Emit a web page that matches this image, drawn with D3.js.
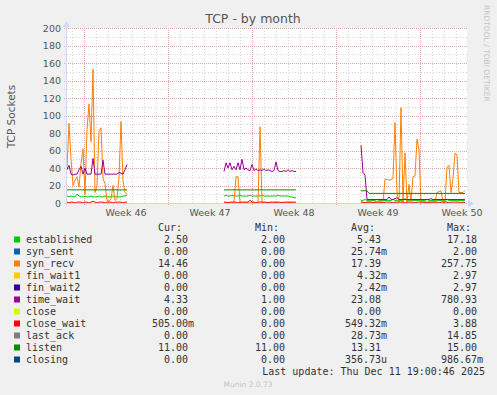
<!DOCTYPE html>
<html>
<head>
<meta charset="utf-8">
<script src="https://cdn.jsdelivr.net/npm/d3@7"></script>
<style>
  html, body { margin: 0; padding: 0; background: #f0f0f0; }
  svg { display: block; font-family: "DejaVu Sans", sans-serif; }
  .mono { font-family: "DejaVu Sans Mono", monospace; font-size: 10px; fill: #333; white-space: pre; }
</style>
</head>
<body>
<svg id="chart" width="497" height="395"></svg>
<script>
// Munin "TCP - by month" graph, redrawn in D3.

const SERIES = ["established", "syn_sent", "syn_recv", "fin_wait1", "fin_wait2", "time_wait",
  "close", "close_wait", "last_ack", "listen", "closing"];
const COLORS = ["#00cc00", "#0066b3", "#ff8000", "#ffcc00", "#330099", "#990099",
  "#ccff00", "#ff0000", "#808080", "#008f00", "#00487d"];

// legend statistics, as printed
const CUR = ["2.50", "0.00", "14.46", "0.00", "0.00", "4.33", "0.00", "505.00m", "0.00", "11.00", "0.00"];
const MIN = ["2.00", "0.00", "0.00", "0.00", "0.00", "1.00", "0.00", "0.00", "0.00", "11.00", "0.00"];
const AVG = ["5.43", "25.74m", "17.39", "4.32m", "2.42m", "23.08", "0.00", "549.32m", "28.73m", "13.31", "356.73u"];
const MAX = ["17.18", "2.00", "257.75", "2.97", "2.97", "780.93", "0.00", "3.88", "14.85", "15.00", "986.67m"];

const Y_TICKS = [0, 20, 40, 60, 80, 100, 120, 140, 160, 180, 200];
const TIME_DOMAIN = ["2025-11-08T14:00:00Z", "2025-12-11T22:00:00Z"];

// three stretches with data, one sample every 4 hours
const SEG_START = ["2025-11-08T14:00:00Z", "2025-11-21T16:00:00Z", "2025-12-03T02:00:00Z"];
const STEP_HOURS = 4;

const ESTABLISHED = [
  [8, 7, 8, 7, 7, 10, 8, 7, 7, 8, 7, 7, 8, 7, 7, 7, 8, 7, 7, 8, 7, 7, 7, 8, 7, 7, 7, 7, 8, 8, 9],
  [8, 9, 8, 8, 9, 8, 8, 8, 9, 8, 8, 8, 8, 9, 8, 8, 8, 8, 8, 9, 8, 8, 8, 8, 8, 8, 8, 9, 8, 8, 8, 8, 8, 7, 7, 6, 6],
  [3, 3, 4, 3, 3, 3, 3, 3, 4, 3, 3, 3, 3, 3, 3, 3, 4, 3, 3, 3, 3, 3, 5, 3, 3, 3, 3, 3, 3, 3,
   3, 3, 3, 4, 3, 3, 3, 3, 3, 3, 3, 3, 3, 4, 3, 3, 3, 3, 3, 3, 3, 3, 2.5]
];
const SYN_RECV = [
  [40, 91, 50, 20, 26, 30, 18, 45, 62, 10, 84, 113, 70, 153, 12, 20, 82, 86, 28, 22,
   3, 2, 5, 20, 3, 5, 30, 93, 25, 12, 10],
  [0, 0, 1, 0, 0, 1, 30, 30, 1, 0, 0, 1, 0, 0, 1, 0, 0, 1, 87, 1,
   0, 0, 1, 0, 0, 0, 1, 0, 0, 1, 0, 0, 0, 1, 0, 0, 0],
  [0, 0, 0, 1, 1, 1, 1, 1, 1, 1, 1, 1, 27, 27, 26, 27, 28, 92, 12, 1,
   109, 1, 57, 1, 21, 2, 30, 31, 73, 60, 1, 1, 1, 1, 1, 1, 1, 1, 12, 13,
   14, 1, 1, 41, 43, 12, 28, 57, 55, 12, 12, 12, 14.46]
];
const TIME_WAIT = [
  [38, 43, 33, 32, 33, 33, 38, 42, 33, 40, 33, 33, 33, 51, 33, 33, 33, 33, 49, 33,
   33, 33, 33, 33, 33, 33, 35, 34, 33, 38, 44],
  [36, 46, 40, 46, 38, 42, 38, 46, 38, 50, 38, 40, 38, 37, 44, 37, 39, 37, 38, 37,
   39, 37, 38, 37, 36, 37, 47, 37, 36, 36, 37, 36, 38, 36, 37, 36, 36],
  [66, 35, 32, 4, 4, 4, 4, 4, 4, 4, 4, 4, 4, 4, 7, 4, 4, 5, 6, 4,
   4, 4, 4, 4, 4, 4, 4, 4, 4, 4, 4, 4, 4, 4, 4, 5, 4, 4, 4, 4,
   4, 4, 4, 4, 4, 4, 4, 4, 4, 4, 4, 4, 4.33]
];
const CLOSE_WAIT = [
  [1, 0, 1, 1, 0, 1, 1, 1, 0, 1, 1, 0, 1, 2, 1, 0, 1, 1, 1, 0, 1, 1, 1, 0, 1, 1, 1, 1, 0, 1, 1],
  [1, 1, 0, 1, 1, 1, 1, 0, 1, 1, 1, 1, 1, 3, 1, 1, 0, 1, 1, 1, 1, 1, 0, 1, 1, 1, 1, 1, 1, 0,
   1, 1, 1, 1, 1, 1, 1],
  [1, 1, 0, 1, 1, 1, 0, 1, 1, 1, 1, 0, 1, 1, 1, 1, 0, 1, 1, 1, 1, 1, 0, 1, 1, 1, 1, 0, 1, 1,
   1, 1, 1, 0, 1, 1, 1, 1, 1, 0, 1, 1, 1, 1, 0, 1, 1, 1, 1, 1, 0, 1, 0.5]
];
const LISTEN = [
  [15, 15, 15, 15, 15, 15, 15, 15, 15, 15, 15, 15, 15, 15, 15, 15, 15, 15, 15, 15,
   15, 15, 15, 15, 15, 15, 15, 15, 15, 15, 15],
  [15, 15, 15, 15, 15, 15, 15, 15, 15, 15, 15, 15, 15, 15, 15, 15, 15, 15, 15, 15,
   15, 15, 15, 15, 15, 15, 15, 15, 15, 15, 15, 15, 15, 15, 15, 15, 15],
  [14, 14, 14, 14, 11, 11, 11, 11, 11, 11, 11, 11, 11, 11, 11, 11, 11, 11, 11, 11,
   11, 11, 11, 11, 11, 11, 11, 11, 11, 11, 11, 11, 11, 11, 11, 11, 11, 11, 11, 11,
   11, 11, 11, 11, 11, 11, 11, 11, 11, 11, 11, 11, 11]
];
// the other series stay at ~0 and vanish under the axis
const PLOTTED = { established: ESTABLISHED, syn_recv: SYN_RECV, time_wait: TIME_WAIT,
  close_wait: CLOSE_WAIT, listen: LISTEN };

const svg = d3.select("#chart");
const W = 497, H = 395;
const pL = 67, pR = 467, pT = 28, pB = 203;
const FONT = "#555";

svg.append("rect").attr("width", W).attr("height", H).attr("fill", "#f0f0f0");
svg.append("rect").attr("x", pL).attr("y", pT)
  .attr("width", pR - pL).attr("height", pB - pT).attr("fill", "#fff");

const x = d3.scaleUtc().domain(TIME_DOMAIN.map(d => new Date(d))).range([pL, pR]);
const y = d3.scaleLinear().domain([0, 200]).range([pB, pT]);
const crisp = v => Math.round(v) + 0.5;

// grid: minor every 10 sockets / every day, major every 20 / every week
const grid = svg.append("g").attr("shape-rendering", "crispEdges");
const minorY = d3.range(10, 200, 20);
grid.selectAll(".gy").data(minorY).join("line")
  .attr("x1", pL - 3).attr("x2", pR)
  .attr("y1", d => crisp(y(d))).attr("y2", d => crisp(y(d)))
  .attr("stroke", "#d6d6d6").attr("stroke-dasharray", "1,2");
const days = d3.utcDay.range(...x.domain()).filter(d => d.getUTCDay() !== 1);
grid.selectAll(".gx").data(days).join("line")
  .attr("x1", d => crisp(x(d))).attr("x2", d => crisp(x(d)))
  .attr("y1", pT).attr("y2", pB + 2)
  .attr("stroke", "#d6d6d6").attr("stroke-dasharray", "1,2");
grid.selectAll(".my").data(Y_TICKS.slice(1)).join("line")
  .attr("x1", pL - 3).attr("x2", pR)
  .attr("y1", d => crisp(y(d))).attr("y2", d => crisp(y(d)))
  .attr("stroke", "#e5a5a5").attr("stroke-dasharray", "1,1");
const mondays = d3.utcMonday.range(...x.domain());
grid.selectAll(".mx").data(mondays).join("line")
  .attr("x1", d => crisp(x(d))).attr("x2", d => crisp(x(d)))
  .attr("y1", pT).attr("y2", pB + 3)
  .attr("stroke", "#e5a5a5").attr("stroke-dasharray", "1,1");

// data lines, in legend order
const line = d3.line().x(d => x(d.t)).y(d => y(d.v));
SERIES.forEach((name, si) => {
  const segs = PLOTTED[name];
  if (!segs) return;
  segs.forEach((vals, k) => {
    const t0 = +new Date(SEG_START[k]);
    const pts = vals.map((v, i) => ({ t: new Date(t0 + i * STEP_HOURS * 3600e3), v }));
    svg.append("path").datum(pts)
      .attr("fill", "none").attr("stroke", COLORS[si]).attr("stroke-width", 1)
      .attr("d", line);
  });
});

// axes with arrows
const AXIS = "#cfd6f8";
svg.append("line").attr("x1", pL - 3).attr("x2", pR + 2)
  .attr("y1", pB + 0.5).attr("y2", pB + 0.5).attr("stroke", AXIS);
svg.append("path").attr("d", `M${pR + 1},${pB - 3}L${pR + 7},${pB + 0.5}L${pR + 1},${pB + 4}Z`)
  .attr("fill", AXIS);
svg.append("line").attr("x1", pL - 0.5).attr("x2", pL - 0.5)
  .attr("y1", pB + 3).attr("y2", pT - 3).attr("stroke", AXIS);
svg.append("path").attr("d", `M${pL - 4},${pT - 1}L${pL - 0.5},${pT - 7}L${pL + 3},${pT - 1}Z`)
  .attr("fill", AXIS);

// tick labels
svg.append("g").selectAll("text").data(Y_TICKS).join("text")
  .attr("x", pL - 6).attr("y", d => y(d) + 3.5)
  .attr("text-anchor", "end").attr("font-size", 9.5).attr("fill", FONT)
  .text(d => d);
const weekFmt = d3.utcFormat("%V");
svg.append("g").selectAll("text").data(mondays).join("text")
  .attr("x", d => x(d3.utcHour.offset(d, 84))).attr("y", 216)
  .attr("text-anchor", "middle").attr("font-size", 9.5).attr("fill", FONT)
  .text(d => "Week " + weekFmt(d));

// titles
svg.append("text").attr("x", 253).attr("y", 23).attr("text-anchor", "middle")
  .attr("font-size", 12.5).attr("fill", FONT).text("TCP - by month");
svg.append("text").attr("transform", `translate(14.5,${(pT + pB) / 2 + 1}) rotate(-90)`)
  .attr("text-anchor", "middle").attr("font-size", 10.5).attr("fill", FONT).text("TCP Sockets");
svg.append("text").attr("transform", "translate(483.5,5) rotate(90)")
  .attr("font-size", 7.5).attr("fill", "#c4c4c4").text("RRDTOOL / TOBI OETIKER");

// legend
const pad = s => {
  const unit = /[a-zA-Z]$/.test(s) ? s.slice(-1) : " ";
  const num = unit === " " ? s : s.slice(0, -1);
  return num.padStart(6) + unit;
};
const COLS = [[152, CUR, "Cur:"], [249, MIN, "Min:"], [345, AVG, "Avg:"], [441, MAX, "Max:"]];
const rowY = i => 242.5 + i * 12;
COLS.forEach(([cx, , head]) => {
  svg.append("text").attr("class", "mono").attr("x", cx + 6).attr("y", 230.5).text(head);
});
const rows = svg.append("g").selectAll("g").data(SERIES).join("g");
rows.append("rect").attr("x", 14).attr("y", (d, i) => rowY(i) - 6)
  .attr("width", 6).attr("height", 6).attr("fill", (d, i) => COLORS[i]);
rows.append("text").attr("class", "mono").attr("x", 26).attr("y", (d, i) => rowY(i)).text(d => d);
COLS.forEach(([cx, vals]) => {
  rows.append("text").attr("class", "mono").attr("x", cx).attr("y", (d, i) => rowY(i))
    .text((d, i) => pad(vals[i]));
});
svg.append("text").attr("class", "mono").attr("x", 485).attr("y", rowY(11))
  .attr("text-anchor", "end").text("Last update: Thu Dec 11 19:00:46 2025");
svg.append("text").attr("x", 248).attr("y", 387).attr("text-anchor", "middle")
  .attr("font-size", 7.5).attr("fill", "#c4c4c4").text("Munin 2.0.73");
</script>
</body>
</html>
